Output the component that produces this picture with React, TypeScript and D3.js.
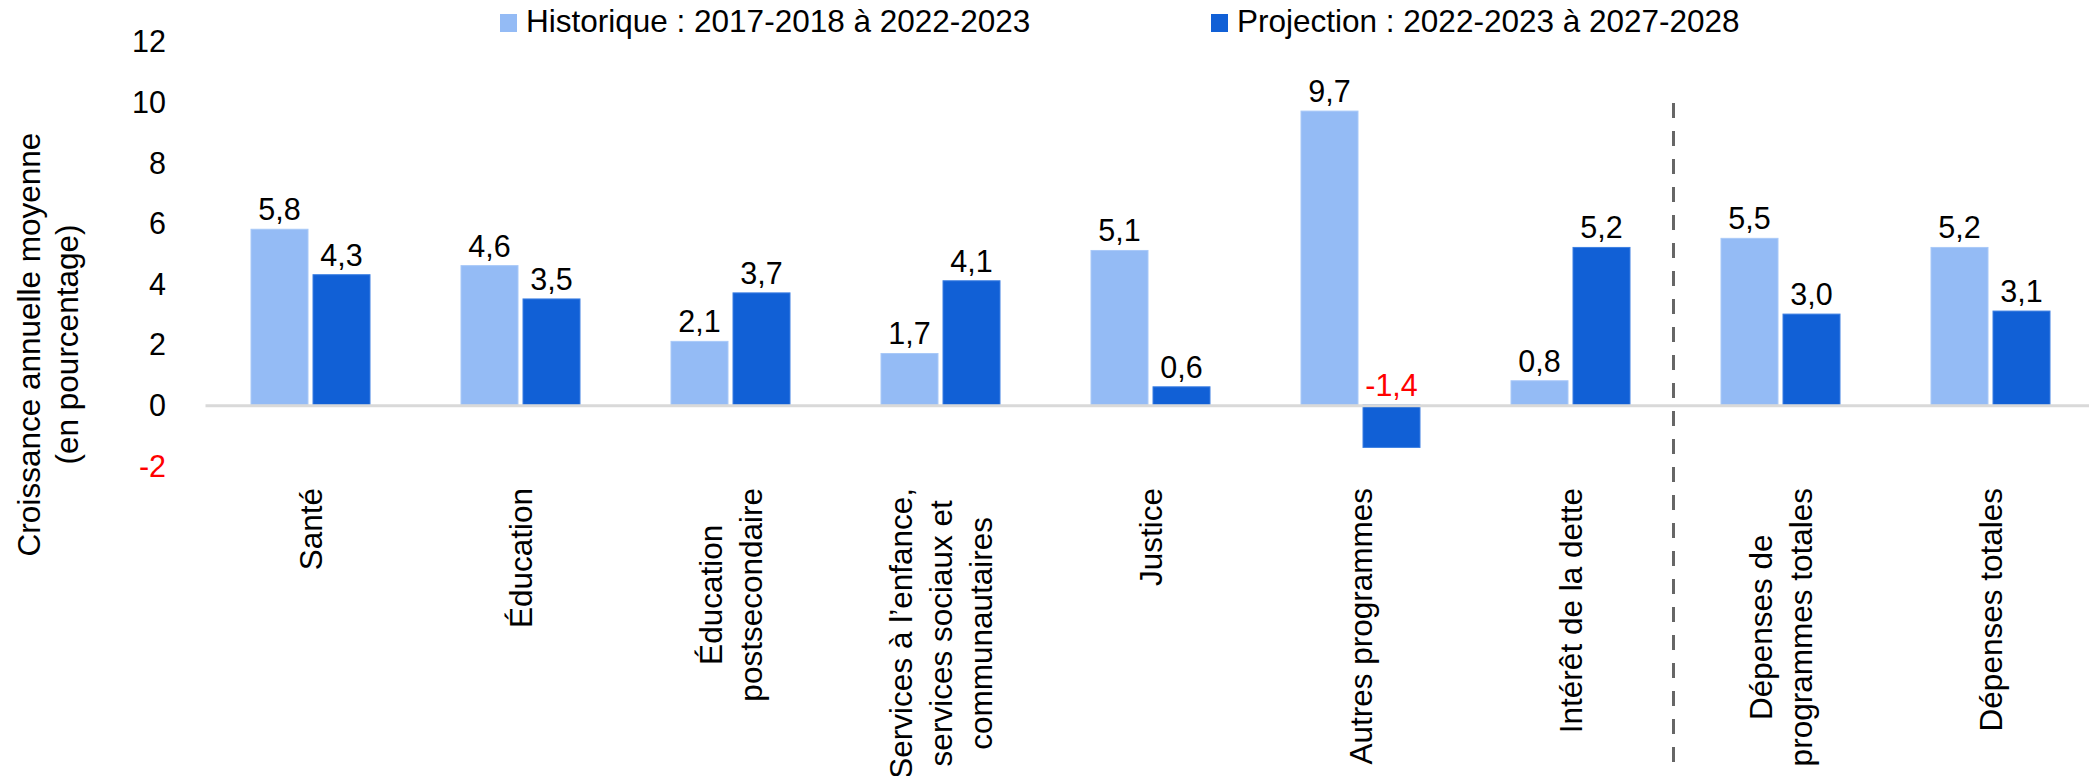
import React, { useEffect, useRef } from "react";
import * as d3 from "d3";

const categories: string[][] = [
  ["Santé"],
  ["Éducation"],
  ["Éducation", "postsecondaire"],
  ["Services à l’enfance,", "services sociaux et", "communautaires"],
  ["Justice"],
  ["Autres programmes"],
  ["Intérêt de la dette"],
  ["Dépenses de", "programmes totales"],
  ["Dépenses totales"],
];
const historique: number[] = [5.8, 4.6, 2.1, 1.7, 5.1, 9.7, 0.8, 5.5, 5.2];
const projection: number[] = [4.3, 3.5, 3.7, 4.1, 0.6, -1.4, 5.2, 3.0, 3.1];
const seriesNames: string[] = [
  "Historique : 2017-2018 à 2022-2023",
  "Projection : 2022-2023 à 2027-2028",
];
const seriesKeys = ["hist", "proj"];
const yTicks: number[] = [-2, 0, 2, 4, 6, 8, 10, 12];
const yTitle: string[] = ["Croissance annuelle moyenne", "(en pourcentage)"];

const W = 2089;
const H = 776;
const FONT = "'Liberation Sans', Arial, Helvetica, sans-serif";
const COLORS: Record<string, string> = { hist: "#94BBF5", proj: "#1160D6" };
const STROKES: Record<string, string> = { hist: "#a9c9f8", proj: "#3c7fe2" };

export default function App() {
  const ref = useRef<SVGSVGElement | null>(null);

  useEffect(() => {
    const svg = d3.select(ref.current);
    svg.selectAll("*").remove();

    const keys = categories.map((c, i) => String(i));
    const x0 = d3.scaleBand<string>().domain(keys).range([205.5, 2095.5]).paddingInner(0).paddingOuter(0);
    const step = x0.bandwidth();
    const pairW = 119;
    const x1 = d3
      .scaleBand<string>()
      .domain(seriesKeys)
      .range([(step - pairW) / 2, (step + pairW) / 2])
      .paddingInner(5 / 62);
    const y = d3.scaleLinear().domain([-2, 12]).range([405 + 2 * 30.3, 405 - 12 * 30.3]);

    const data = keys.map((k, i) => ({ k, hist: historique[i], proj: projection[i] }));
    const fmt = (v: number) => d3.format(".1f")(v).replace(".", ",").replace("\u2212", "-");

    // bars
    const g = svg.append("g");
    data.forEach((d) => {
      seriesKeys.forEach((s) => {
        const v = (d as any)[s] as number;
        g.append("rect")
          .attr("x", (x0(d.k) as number) + (x1(s) as number))
          .attr("y", y(Math.max(v, 0)))
          .attr("width", x1.bandwidth())
          .attr("height", Math.abs(y(v) - y(0)))
          .attr("fill", COLORS[s])
          .attr("stroke", STROKES[s])
          .attr("stroke-width", 1);
      });
    });

    // zero axis line
    svg
      .append("line")
      .attr("x1", 205.5)
      .attr("x2", W)
      .attr("y1", y(0) + 0.8)
      .attr("y2", y(0) + 0.8)
      .attr("stroke", "#d9d9d9")
      .attr("stroke-width", 3);

    // dashed separator
    const sepX = (x0("7") as number) - 2;
    svg
      .append("line")
      .attr("x1", sepX)
      .attr("x2", sepX)
      .attr("y1", 103)
      .attr("y2", 762)
      .attr("stroke", "#666666")
      .attr("stroke-width", 3)
      .attr("stroke-dasharray", "15,13");

    // value labels
    data.forEach((d) => {
      seriesKeys.forEach((s) => {
        const v = (d as any)[s] as number;
        g.append("text")
          .attr("x", (x0(d.k) as number) + (x1(s) as number) + x1.bandwidth() / 2)
          .attr("y", y(Math.max(v, 0)) - 9)
          .attr("text-anchor", "middle")
          .attr("font-family", FONT)
          .attr("font-size", 30.5)
          .attr("fill", v < 0 ? "#ff0000" : "#000000")
          .text(fmt(v));
      });
    });

    // y ticks
    yTicks.forEach((t) => {
      svg
        .append("text")
        .attr("x", 166)
        .attr("y", y(t))
        .attr("dy", "0.36em")
        .attr("text-anchor", "end")
        .attr("font-family", FONT)
        .attr("font-size", 30.5)
        .attr("fill", t < 0 ? "#ff0000" : "#000000")
        .text(String(t));
    });

    // y title
    const yt = svg.append("g").attr("transform", "translate(0,344.5)");
    yTitle.forEach((line, i) => {
      yt.append("text")
        .attr("transform", `translate(${40 + i * 38},0) rotate(-90)`)
        .attr("text-anchor", "middle")
        .attr("font-family", FONT)
        .attr("font-size", 31.5)
        .attr("fill", "#000")
        .text(line);
    });

    // category labels
    const topY = 488;
    const L = 40;
    data.forEach((d, i) => {
      const lines = categories[i];
      const cx = (x0(d.k) as number) + step / 2;
      const cg = svg.append("g").attr("transform", `translate(${cx},${topY}) rotate(-90)`);
      const texts = lines.map((line, k) =>
        cg
          .append("text")
          .attr("y", (k - (lines.length - 1) / 2) * L)
          .attr("dy", "0.36em")
          .attr("text-anchor", "middle")
          .attr("font-family", FONT)
          .attr("font-size", 31.5)
          .attr("fill", "#000")
          .text(line)
      );
      const maxLen = d3.max(texts, (t) => (t.node() as SVGTextElement).getComputedTextLength()) || 0;
      texts.forEach((t) => t.attr("x", -maxLen / 2));
    });

    // legend
    const legendX = [500, 1211];
    seriesKeys.forEach((s, i) => {
      svg
        .append("rect")
        .attr("x", legendX[i])
        .attr("y", 14)
        .attr("width", 17)
        .attr("height", 18)
        .attr("fill", COLORS[s]);
      svg
        .append("text")
        .attr("x", legendX[i] + 26)
        .attr("y", 32)
        .attr("font-family", FONT)
        .attr("font-size", 31.5)
        .attr("fill", "#000")
        .text(seriesNames[i]);
    });
  }, []);

  return (
    <svg
      ref={ref}
      width={W}
      height={H}
      style={{ position: "fixed", left: 0, top: 0, display: "block", background: "#fff" }}
    />
  );
}
